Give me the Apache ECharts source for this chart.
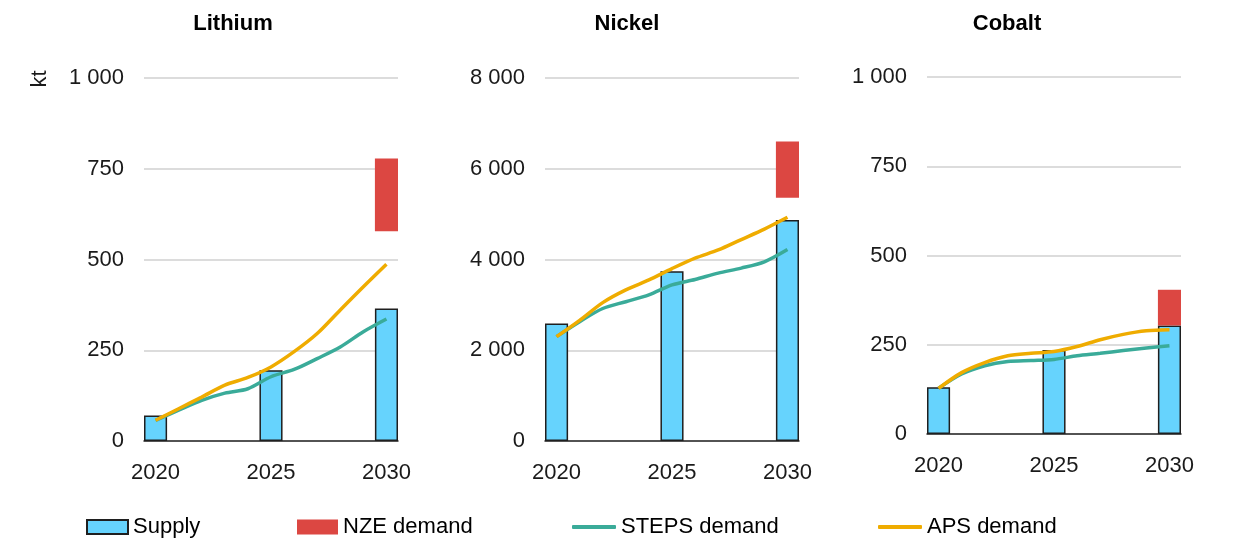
<!DOCTYPE html>
<html>
<head>
<meta charset="utf-8">
<script src="https://cdn.jsdelivr.net/npm/echarts@6/dist/echarts.min.js"></script>
<style>
html,body{margin:0;padding:0;background:#fff;}
#chart{width:1242px;height:539px;}
</style>
</head>
<body>
<div id="chart"></div>
<script>
// ---- data ----
const years = ['2020','2021','2022','2023','2024','2025','2026','2027','2028','2029','2030'];
const supplyYears = ['2020','2025','2030'];
const nzeYear = '2030';

const lithiumSupply = [70, 195, 365];
const lithiumNze = [578, 778];           // low, high
const lithiumSteps = [57, 85, 112, 132, 144, 177, 197, 227, 259, 301, 336];
const lithiumAps = [57, 89, 121, 154, 175, 204, 246, 296, 361, 425, 487];

const nickelSupply = [2590, 3740, 4870];
const nickelNze = [5360, 6600];
const nickelSteps = [2300, 2630, 2920, 3070, 3220, 3440, 3560, 3700, 3810, 3950, 4220];
const nickelAps = [2300, 2660, 3050, 3330, 3550, 3800, 4030, 4210, 4440, 4670, 4930];

const cobaltSupply = [131, 235, 304];
const cobaltNze = [304, 404];
const cobaltSteps = [128, 168, 191, 203, 206, 209, 219, 226, 234, 241, 247];
const cobaltAps = [128, 172, 200, 219, 226, 231, 245, 264, 279, 289, 292];

const panelTitles = ['Lithium', 'Nickel', 'Cobalt'];
const yMax = [1000, 8000, 1000];
const yInterval = [250, 2000, 250];
const yUnit = 'kt';
const legendNames = ['Supply', 'NZE demand', 'STEPS demand', 'APS demand'];

// ---- styles ----
const FONT = 'Liberation Sans, Arial, sans-serif';
const C_SUPPLY = '#66d3fd';
const C_NZE = '#dc4742';
const C_STEPS = '#3aab99';
const C_APS = '#efac00';

const grids = [
  {left: 144, top: 78, width: 254, height: 363},
  {left: 545, top: 78, width: 254, height: 363},
  {left: 927, top: 77, width: 254, height: 357}
];

const panels = [
  {supply: lithiumSupply, nze: lithiumNze, steps: lithiumSteps, aps: lithiumAps},
  {supply: nickelSupply, nze: nickelNze, steps: nickelSteps, aps: nickelAps},
  {supply: cobaltSupply, nze: cobaltNze, steps: cobaltSteps, aps: cobaltAps}
];

function fmt(v){ return String(v).replace(/\B(?=(\d{3})+(?!\d))/g, ' '); }

const xAxis = [], yAxis = [], series = [];
panels.forEach((p, i) => {
  xAxis.push({
    type: 'category', gridIndex: i, data: years, boundaryGap: true,
    axisLine: {lineStyle: {color: '#262626', width: 1.5}},
    axisTick: {show: false},
    axisLabel: {interval: 4, color: '#1a1a1a', fontFamily: FONT, fontSize: 22, margin: 21}
  });
  yAxis.push({
    type: 'value', gridIndex: i, min: 0, max: yMax[i], interval: yInterval[i],
    axisLine: {show: false}, axisTick: {show: false},
    axisLabel: {color: '#1a1a1a', fontFamily: FONT, fontSize: 22, margin: 20, formatter: fmt},
    splitLine: {lineStyle: {color: '#dcdcdc', width: 2}}
  });
  series.push({
    name: legendNames[0], type: 'bar', xAxisIndex: i, yAxisIndex: i,
    data: supplyYears.map((y, k) => [y, p.supply[k]]),
    barWidth: '100%', barGap: '-100%',
    itemStyle: {color: C_SUPPLY, borderColor: '#1f1f1f', borderWidth: 1.5},
    z: 2
  });
  series.push({
    name: 'nze-base', type: 'bar', stack: 'nze' + i, xAxisIndex: i, yAxisIndex: i,
    data: [[nzeYear, p.nze[0]]],
    barWidth: '100%', barGap: '-100%',
    itemStyle: {color: 'rgba(0,0,0,0)'}, silent: true, z: 1
  });
  series.push({
    name: legendNames[1], type: 'bar', stack: 'nze' + i, xAxisIndex: i, yAxisIndex: i,
    data: [[nzeYear, p.nze[1] - p.nze[0]]],
    barWidth: '100%', barGap: '-100%',
    itemStyle: {color: C_NZE}, z: 2
  });
  series.push({
    name: legendNames[2], type: 'line', xAxisIndex: i, yAxisIndex: i,
    data: p.steps, smooth: 0.3, symbol: 'none',
    lineStyle: {color: C_STEPS, width: 3.5}, itemStyle: {color: C_STEPS, borderWidth: 0}, z: 3
  });
  series.push({
    name: legendNames[3], type: 'line', xAxisIndex: i, yAxisIndex: i,
    data: p.aps, smooth: 0.3, symbol: 'none',
    lineStyle: {color: C_APS, width: 3.5}, itemStyle: {color: C_APS, borderWidth: 0}, z: 4
  });
});

const legendBase = {
  top: 516, padding: 0, itemGap: 0, textStyle: {color: '#000', fontFamily: FONT, fontSize: 22},
  selectedMode: false
};
const legend = [
  Object.assign({}, legendBase, {data: [{name: legendNames[0], icon: 'rect'}], left: 86, itemWidth: 41, itemHeight: 14}),
  Object.assign({}, legendBase, {data: [{name: legendNames[1], icon: 'rect'}], left: 297, itemWidth: 41, itemHeight: 15}),
  Object.assign({}, legendBase, {data: [{name: legendNames[2], icon: 'roundRect'}], left: 572, itemWidth: 44, itemHeight: 4}),
  Object.assign({}, legendBase, {data: [{name: legendNames[3], icon: 'roundRect'}], left: 878, itemWidth: 44, itemHeight: 4})
];

const titleX = [233, 627, 1007];
const graphic = panelTitles.map((t, i) => ({
  type: 'text', x: titleX[i], y: 24,
  style: {text: t, font: 'bold 22px ' + FONT, fill: '#000', align: 'center', verticalAlign: 'middle'}
}));
graphic.push({
  type: 'text', x: 40, y: 79, rotation: Math.PI / 2,
  style: {text: yUnit, font: '22px ' + FONT, fill: '#1a1a1a', align: 'center', verticalAlign: 'middle'}
});

const chart = echarts.init(document.getElementById('chart'), null, {renderer: 'canvas'});
chart.setOption({
  animation: false,
  backgroundColor: '#fff',
  grid: grids,
  xAxis: xAxis,
  yAxis: yAxis,
  series: series,
  legend: legend,
  graphic: graphic
});
</script>
</body>
</html>
